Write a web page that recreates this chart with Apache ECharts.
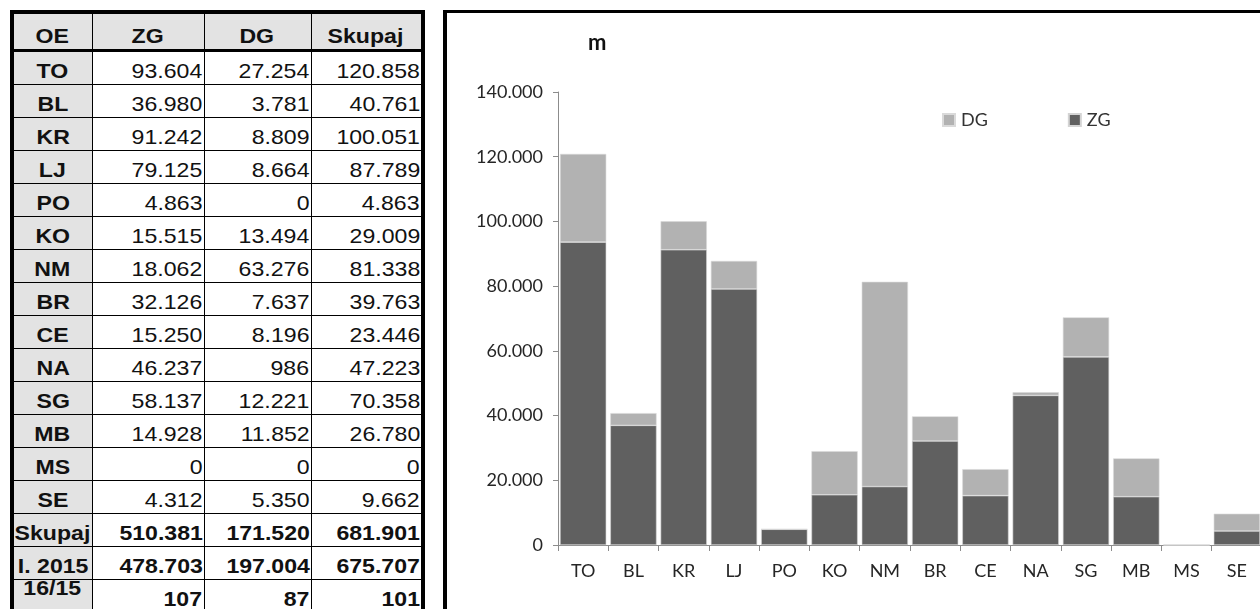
<!DOCTYPE html>
<html>
<head>
<meta charset="utf-8">
<script src="https://cdn.jsdelivr.net/npm/echarts@6/dist/echarts.min.js"></script>
<style>
  html, body { margin: 0; padding: 0; background: #fff; overflow: hidden; width: 1260px; height: 609px; }
  #tbl {
    position: absolute; left: 10px; top: 10px;
    border-collapse: collapse; table-layout: fixed;
    font-family: "Liberation Sans", Arial, sans-serif; font-size: 21px; color: #111;
    border: 4px solid #000;
  }
  #tbl td, #tbl th {
    border: 1px solid #000; padding: 0 1px 3px 0; height: 29px; line-height: 20px;
    white-space: nowrap; overflow: visible; vertical-align: bottom;
  }
  #tbl th { background: #e3e3e3; font-weight: bold; text-align: center; height: 32px; padding-bottom: 3px; border-bottom: 3px solid #000; }
  #tbl td.oe { background: #e3e3e3; font-weight: bold; text-align: center; padding-right: 0; }
  #tbl td.num { text-align: right; }
  #tbl tr.sum td { font-weight: bold; }
  #tbl tr.last td.oe { vertical-align: top; padding: 0; }
  #tbl tr.last td.oe span { position: relative; top: -2px; }
  #tbl span { display: inline-block; transform: scaleX(1.1); transform-origin: 50% 50%; }
  #tbl td.num span { transform-origin: 100% 50%; }
  #box {
    position: absolute; left: 443px; top: 10px; width: 830px; height: 620px;
    border-left: 4px solid #000; border-top: 3px solid #000; box-sizing: border-box;
  }
  #chart { position: absolute; left: 447px; top: 13px; width: 818px; height: 600px; }
</style>
</head>
<body>
<table id="tbl">
  <colgroup><col style="width:80px"><col style="width:112px"><col style="width:107px"><col style="width:112px"></colgroup>
  <thead><tr id="head"></tr></thead>
  <tbody id="body"></tbody>
</table>
<div id="box"></div>
<div id="chart"></div>
<script>
// Column headers of the summary table
const headers = ['OE', 'ZG', 'DG', 'Skupaj'];
// Organisational units
const units = ['TO', 'BL', 'KR', 'LJ', 'PO', 'KO', 'NM', 'BR', 'CE', 'NA', 'SG', 'MB', 'MS', 'SE'];
// Metres per unit
const zg = [93604, 36980, 91242, 79125, 4863, 15515, 18062, 32126, 15250, 46237, 58137, 14928, 0, 4312];
const dg = [27254, 3781, 8809, 8664, 0, 13494, 63276, 7637, 8196, 986, 12221, 11852, 0, 5350];
const total = [120858, 40761, 100051, 87789, 4863, 29009, 81338, 39763, 23446, 47223, 70358, 26780, 0, 9662];
// Summary rows
const sumLabels = ['Skupaj', 'I. 2015', '16/15'];
const sumZG = [510381, 478703, 107];
const sumDG = [171520, 197004, 87];
const sumTotal = [681901, 675707, 101];
// Value axis
const yMax = 140000;
const yStep = 20000;

function fmt(v) {
  return String(v).replace(/\B(?=(\d{3})+(?!\d))/g, '.');
}

function cell(tag, cls, text) {
  const el = document.createElement(tag);
  if (cls) el.className = cls;
  const s = document.createElement('span');
  s.textContent = text;
  el.appendChild(s);
  return el;
}

// Table
const head = document.getElementById('head');
headers.forEach(h => head.appendChild(cell('th', '', h)));
const body = document.getElementById('body');
function addRow(label, a, b, c, cls) {
  const tr = document.createElement('tr');
  if (cls) tr.className = cls;
  tr.appendChild(cell('td', 'oe', label));
  [a, b, c].forEach(v => tr.appendChild(cell('td', 'num', fmt(v))));
  body.appendChild(tr);
}
units.forEach((u, i) => addRow(u, zg[i], dg[i], total[i]));
sumLabels.forEach((u, i) => addRow(u, sumZG[i], sumDG[i], sumTotal[i], i === sumLabels.length - 1 ? 'sum last' : 'sum'));

// Chart
const chart = echarts.init(document.getElementById('chart'), null, { renderer: 'canvas' });
const font = 'Lato, "Open Sans", sans-serif';
chart.setOption({
  animation: false,
  textStyle: { fontFamily: font },
  title: {
    text: 'm', left: 141, top: 19, padding: 0,
    textStyle: { fontFamily: font, fontSize: 22, fontWeight: 'bold', color: '#111' }
  },
  legend: {
    data: ['DG', 'ZG'], left: 495, top: 98, padding: 0,
    icon: 'rect', itemWidth: 12, itemHeight: 12, itemGap: 80,
    textStyle: { fontFamily: font, fontSize: 18, color: '#333', padding: [0, 0, 0, 1] }
  },
  grid: { left: 111, right: 3, top: 79, bottom: 68, containLabel: false },
  xAxis: {
    type: 'category', data: units,
    axisLine: { lineStyle: { color: '#8c8c8c', width: 1 } },
    axisTick: { show: true, length: 6, lineStyle: { color: '#8c8c8c' } },
    axisLabel: { fontFamily: font, fontSize: 18, color: '#262626', margin: 17 }
  },
  yAxis: {
    type: 'value', min: 0, max: yMax, interval: yStep,
    splitLine: { show: false },
    axisLine: { show: true, lineStyle: { color: '#8c8c8c', width: 1 } },
    axisTick: { show: true, length: 5, lineStyle: { color: '#8c8c8c' } },
    axisLabel: { fontFamily: font, fontSize: 18, color: '#262626', margin: 15, formatter: v => fmt(v) }
  },
  series: [
    {
      name: 'ZG', type: 'bar', stack: 's', data: zg, barCategoryGap: '8%',
      itemStyle: { color: '#606060', borderColor: '#d4d4d4', borderWidth: 0.6 }
    },
    {
      name: 'DG', type: 'bar', stack: 's', data: dg, barCategoryGap: '8%',
      itemStyle: { color: '#b2b2b2', borderColor: '#dadada', borderWidth: 0.6 }
    }
  ]
});
</script>
</body>
</html>
